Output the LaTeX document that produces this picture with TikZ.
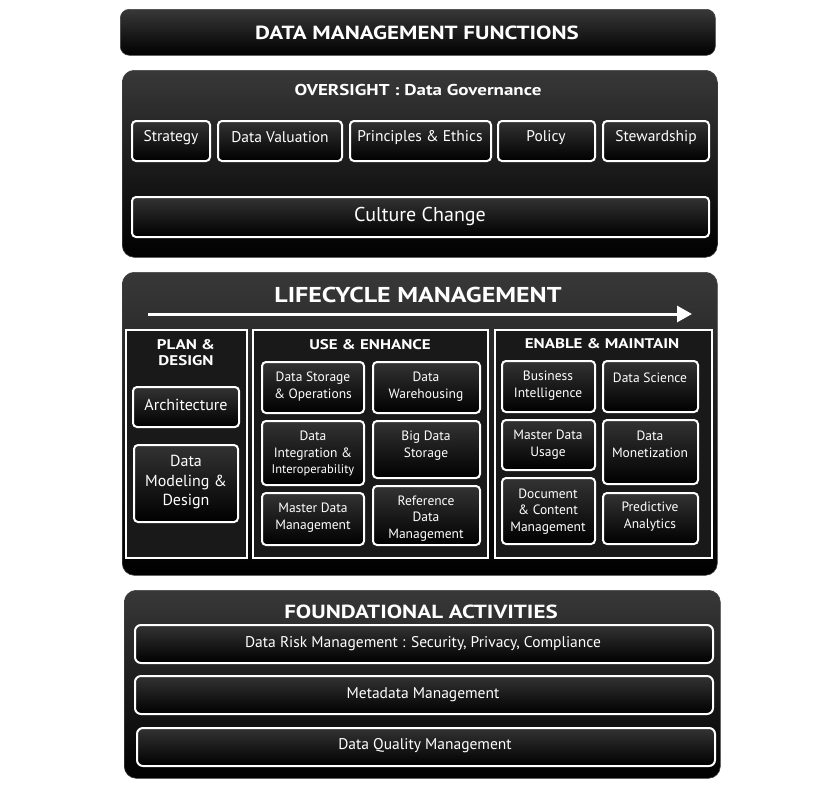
\documentclass[tikz,border=0pt]{standalone}
\usepackage{fontspec}
\setmainfont{PT Sans}
\newfontfamily\hdfont{PT Sans}[FakeStretch=1.21]
\usetikzlibrary{arrows.meta}
\tikzset{
  outerbox/.style={draw=black!75, line width=0.6pt, rounded corners=12pt, top color=black!78, middle color=black, bottom color=black},
  ibox/.style={draw=white, line width=2pt, rounded corners=4pt, top color=black!80, bottom color=black, inner sep=0pt, outer sep=0pt},
  panel/.style={draw=white, line width=2pt, fill=black!90, inner sep=0pt, outer sep=0pt},
  txt/.style={text=white, align=center, inner sep=0pt, yshift=-1.5pt},
  fA/.style={font=\hdfont\fontsize{19}{22}\selectfont\bfseries},
  fP/.style={font=\hdfont\fontsize{14}{16}\selectfont\bfseries},
  fB/.style={font=\fontsize{15.5}{19}\selectfont},
  fC/.style={font=\fontsize{13.5}{16.5}\selectfont},
}
\newcommand\bx[6][ibox]{%
  \node[#1, minimum width={#5-#3}, minimum height={#6-#4}, anchor=north west] (#2) at (#3,#4) {};}
\begin{document}
\begin{tikzpicture}[x=1pt,y=-1pt]
\useasboundingbox (0,0) rectangle (837,788);
\fill[white] (0,0) rectangle (837,788);
% ---------- title
\bx[outerbox,rounded corners=9pt]{title}{120}{9}{715}{55}
\node[txt,fA] (titlet) at (417,31) {DATA MANAGEMENT FUNCTIONS};
% ---------- oversight
\bx[outerbox]{over}{122}{70}{717}{257}
\node[txt,font=\hdfont\fontsize{15.7}{19}\selectfont\bfseries] (overt) at (418,88) {OVERSIGHT : Data Governance};
\bx{strat}{132}{121}{210}{161}
\bx{valu}{218}{121}{342}{161}
\bx{princ}{350}{121}{491}{161}
\bx{pol}{498}{121}{595}{161}
\bx{stew}{603}{121}{709}{161}
\node[txt,fB] at (171,136) {Strategy};
\node[txt,fB] at (280,136) {Data Valuation};
\node[txt,fB] at (420,136) {Principles \& Ethics};
\node[txt,fB] at (546,136) {Policy};
\node[txt,fB] at (656,136) {Stewardship};
\bx{cult}{132}{197}{709}{237}
\node[txt,font=\fontsize{20}{24}\selectfont] at (420,215) {Culture Change};
% ---------- lifecycle
\bx[outerbox]{life}{122}{272}{717}{575}
\node[txt,font=\hdfont\fontsize{21.5}{25}\selectfont\bfseries] (lifet) at (418,293) {LIFECYCLE MANAGEMENT};
\coordinate (arA) at (148,314);
\coordinate (arB) at (692,314);
\draw[white, line width=3pt, -{Triangle[length=15pt,width=16pt]}] (arA) -- (arB);
% panels
\bx[panel]{plan}{126}{330}{247}{558}
\bx[panel]{use}{253}{330}{488}{558}
\bx[panel]{enab}{495}{330}{712}{558}
\node[txt,fP] at (186,351) {PLAN \&\\DESIGN};
\node[txt,fP] at (370,343) {USE \& ENHANCE};
\node[txt,fP] at (602,342) {ENABLE \& MAINTAIN};
% plan boxes
\bx{arch}{133}{387}{239}{427}
\node[txt,font=\fontsize{16}{19}\selectfont] at (186,403) {Architecture};
\bx{model}{134}{445}{238}{522}
\node[txt,font=\fontsize{16}{19.5}\selectfont] at (186,481) {Data\\Modeling \&\\Design};
% use boxes
\bx{dso}{262}{362}{364}{413}
\bx{dwh}{373}{362}{480}{413}
\bx{dii}{262}{421}{364}{485}
\bx{bds}{373}{421}{480}{478}
\bx{mdm}{262}{493}{364}{545}
\bx{rdm}{373}{486}{480}{545}
\node[txt,fC] at (313,385) {Data Storage\\\& Operations};
\node[txt,fC] at (426,385) {Data\\Warehousing};
\node[txt,fC] at (313,452) {Data\\Integration \&\\{\fontsize{12.5}{15}\selectfont Interoperability}};
\node[txt,fC] at (426,444) {Big Data\\Storage};
\node[txt,fC] at (313,516) {Master Data\\Management};
\node[txt,fC] at (426,517) {Reference\\Data\\Management};
% enable boxes
\bx{bi}{502}{361}{595}{412}
\bx{ds}{603}{361}{698}{412}
\bx{mdu}{502}{420}{595}{470}
\bx{dmon}{603}{420}{698}{484}
\bx{dcm}{502}{478}{595}{544}
\bx{pa}{603}{493}{698}{544}
\node[txt,fC] at (548,384) {Business\\Intelligence};
\node[txt,fC] at (650,376) {Data Science};
\node[txt,fC] at (548,443) {Master Data\\Usage};
\node[txt,fC] at (650,443) {Data\\Monetization};
\node[txt,fC] at (548,510) {Document\\\& Content\\Management};
\node[txt,fC] at (650,515) {Predictive\\Analytics};
% ---------- foundational
\bx[outerbox]{found}{124}{590}{720}{778}
\node[txt,fA] (foundt) at (421,610) {FOUNDATIONAL ACTIVITIES};
\bx[ibox,rounded corners=6pt]{risk}{135}{625}{713}{663}
\bx[ibox,rounded corners=6pt]{meta}{135}{676}{713}{714}
\bx[ibox,rounded corners=6pt]{qual}{137}{728}{715}{766}
\node[txt,fB] at (423,642) {Data Risk Management : Security, Privacy, Compliance};
\node[txt,fB] at (423,693) {Metadata Management};
\node[txt,fB] at (425,744) {Data Quality Management};
\end{tikzpicture}
\end{document}
